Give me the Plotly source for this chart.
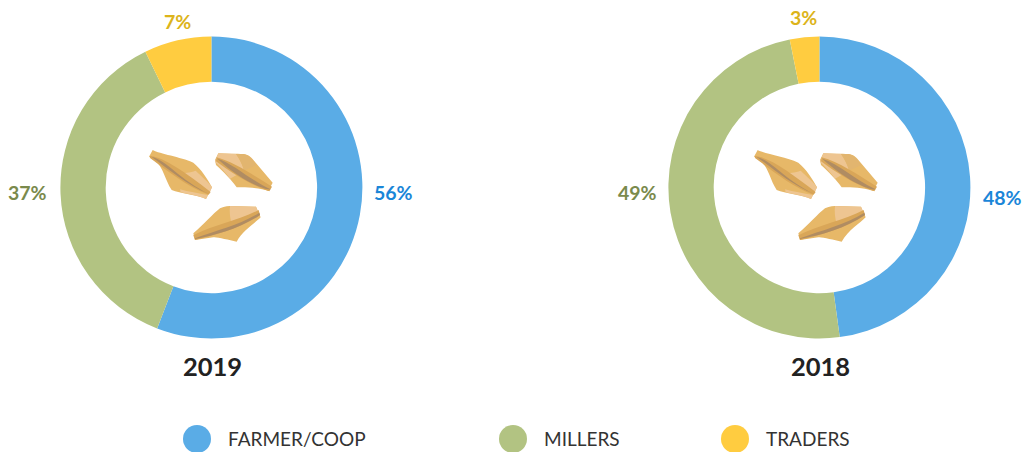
import plotly.graph_objects as go

categories = ["FARMER/COOP", "MILLERS", "TRADERS"]
values_2019 = [55.85, 36.95, 7.2]
values_2018 = [47.85, 49.0, 3.15]
years = ["2019", "2018"]

W, H = 1026, 452
COLORS = ["#5aace6", "#b2c382", "#ffcc40"]
LABEL_COLORS = ["#1a86d8", "#7a8a4c", "#dcb41a"]
FONT = "Lato, 'Open Sans', sans-serif"
CENTERS = [(211.4, 187.5), (819.4, 187.5)]
R = 151
HOLE = 0.70

# Decorative grain illustration, in zoom-crop units (1/3 px), drawn at both centres
BASE, MID, LIGHT, BAND, SPINE = "#e7b868", "#e2b56f", "#eec591", "#d9a658", "#b08c62"
GRAINS = [
    [(BASE, "M57 80 L68 60 C 90 72 150 80 190 98 C 212 115 235 150 246 172 L228 207 C 200 195 150 190 125 180 C 105 150 100 110 75 92 Z"),
     (LIGHT, "M160 130 C 175 128 190 125 197 122 C 215 140 235 155 246 172 L238 190 C 210 170 185 150 160 130 Z"),
     (LIGHT, "M150 178 C 175 185 205 190 234 195 L228 207 C 200 195 170 192 152 187 Z"),
     (BAND, "M60 78 C 100 80 170 130 242 186 L236 194 C 170 170 110 120 60 84 Z"),
     (SPINE, "M64 80 C 110 90 150 150 238 192 C 170 165 120 120 64 80 Z")],
    [(BASE, "M255 90 L265 70 C 290 72 320 70 340 72 C 355 74 362 80 372 92 L428 158 L415 183 C 395 175 350 170 320 172 C 305 150 280 125 258 105 Z"),
     (LIGHT, "M265 70 L318 72 C 330 90 340 110 342 122 L300 146 C 285 125 270 110 255 95 Z"),
     (MID, "M318 72 L340 72 C 360 78 370 90 378 105 L342 122 C 338 105 330 88 318 72 Z"),
     (BAND, "M260 82 C 310 95 370 135 426 170 L418 184 C 360 165 300 125 258 94 Z"),
     (SPINE, "M262 86 C 310 100 360 150 422 178 C 405 182 330 150 262 86 Z")],
    [(BASE, "M190 310 C 220 285 250 250 270 235 C 285 228 295 228 310 228 L378 230 L392 262 C 375 280 340 300 320 335 C 295 330 260 320 250 322 L195 330 Z"),
     (LIGHT, "M300 228 L378 230 L386 250 C 360 262 335 270 305 282 C 300 265 298 245 300 228 Z"),
     (BAND, "M190 316 C 250 285 330 270 386 240 L390 256 C 330 295 260 315 195 330 Z"),
     (SPINE, "M195 325 C 260 300 330 285 388 248 L390 255 C 330 295 260 315 195 327 Z")],
]
GRAIN_ORIGIN = (130, 130)
GRAIN_OFFSETS = [0, 605]


def grain_path(d, dx):
    res, is_x = [], True
    for t in d.split():
        if t[0] in "MLCZ":
            res.append(t[0])
            is_x = True
            t = t[1:]
            if not t:
                continue
        v = float(t) / 3
        v = v + GRAIN_ORIGIN[0] + dx if is_x else v + GRAIN_ORIGIN[1]
        res.append(f"{v:.2f}")
        is_x = not is_x
    return " ".join(res)


fig = go.Figure()

for vals, (cx, cy) in zip([values_2019, values_2018], CENTERS):
    fig.add_trace(go.Pie(
        labels=categories, values=vals, hole=HOLE, sort=False,
        direction="clockwise", rotation=0, textinfo="none", hoverinfo="label+percent",
        marker=dict(colors=COLORS, line=dict(width=0)), showlegend=False,
        domain=dict(x=[(cx - R) / W, (cx + R) / W],
                    y=[1 - (cy + R) / H, 1 - (cy - R) / H]),
    ))

# legend swatches on a hidden pixel-scaled axis
LEGEND_X = [197, 513, 735]
LEGEND_TEXT_X = [226, 542, 764]
LEGEND_Y = 439
for cat, col, lx in zip(categories, COLORS, LEGEND_X):
    fig.add_trace(go.Scatter(x=[lx], y=[LEGEND_Y], mode="markers", name=cat, showlegend=False,
                             marker=dict(size=28, color=col), hoverinfo="name"))

ann = []
LABEL_POS = [
    [(393, 192.5), (27.5, 192), (177, 21.5)],
    [(1002, 197.5), (637, 192.5), (803, 17.5)],
]
for vals, pos in zip([values_2019, values_2018], LABEL_POS):
    for v, (x, y), c in zip(vals, pos, LABEL_COLORS):
        ann.append(dict(x=x, y=y, text=f"<b>{round(v)}%</b>", showarrow=False, xref="x", yref="y",
                        font=dict(family=FONT, size=19.5, color=c)))
for yr, (cx, _) in zip(years, CENTERS):
    ann.append(dict(x=cx + 1.5, y=366, text=f"<b>{yr}</b>", showarrow=False, xref="x", yref="y",
                    font=dict(family=FONT, size=25.5, color="#222222")))
for cat, tx in zip(categories, LEGEND_TEXT_X):
    ann.append(dict(x=tx, y=438.5, text=cat, showarrow=False, xref="x", yref="y", xanchor="left",
                    font=dict(family=FONT, size=19, color="#333333")))

shapes = []
for dx in GRAIN_OFFSETS:
    for grain in GRAINS:
        for col, d in grain:
            shapes.append(dict(type="path", path=grain_path(d, dx), xref="x", yref="y",
                               fillcolor=col, line=dict(width=0), layer="above"))

fig.update_layout(
    width=W, height=H, margin=dict(l=0, r=0, t=0, b=0),
    paper_bgcolor="white", plot_bgcolor="white", showlegend=False,
    xaxis=dict(range=[0, W], visible=False, fixedrange=True),
    yaxis=dict(range=[H, 0], visible=False, fixedrange=True),
    annotations=ann, shapes=shapes,
)
fig.write_html("out.html", config=dict(displayModeBar=False),
               post_script="document.body.style.margin='0';document.body.style.overflow='hidden';")
